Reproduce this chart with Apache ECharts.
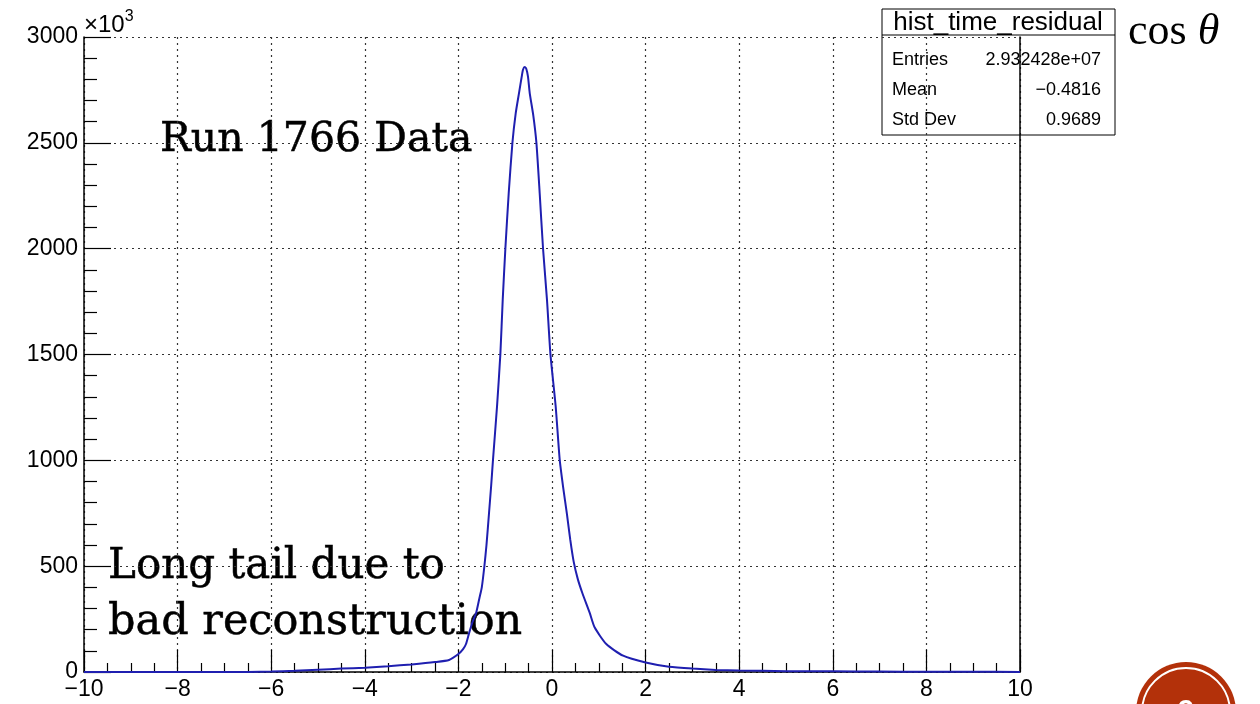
<!DOCTYPE html>
<html>
<head>
<meta charset="utf-8">
<script src="https://cdn.jsdelivr.net/npm/echarts@6/dist/echarts.min.js"></script>
<style>
    html, body { margin: 0; padding: 0; background: #fff; }
    #chart { width: 1260px; height: 704px; }
</style>
</head>
<body>
<div id="chart"></div>
<script>
// time residual histogram, counts in units of 10^3
const timeResidual = [
    -10, -8, -7, -6.5, -6, -5.5, -5, -4.5, -4, -3.5, -3, -2.5, -2.2, -2.0, -1.9, -1.84,
    -1.77, -1.70, -1.62, -1.55, -1.50, -1.444, -1.40, -1.346, -1.30, -1.261, -1.175,
    -1.103, -1.053, -0.996, -0.925, -0.846, -0.775, -0.705, -0.647, -0.62, -0.583, -0.55,
    -0.513, -0.476, -0.40, -0.333, -0.263, -0.192, -0.107, -0.034, 0.079, 0.165, 0.24, 0.32,
    0.39, 0.464, 0.55, 0.65, 0.806, 0.91, 1.16, 1.52, 2.0, 2.5, 3.0, 3.5, 4.0, 5, 6, 7, 8, 9, 10
];
const counts = [
    0, 0, 0, 0.5, 2, 6, 11, 16, 20, 27, 36, 47, 57, 85, 108, 131,
    185, 235, 280, 350, 400, 502, 600, 750, 880, 1002, 1254,
    1503, 1758, 2002, 2262, 2500, 2640, 2735, 2813, 2845, 2858, 2850,
    2813, 2735, 2630, 2500, 2262, 2002, 1758, 1503, 1254, 1002, 870, 745,
    625, 520, 440, 372, 279, 211, 132, 77, 45, 25, 16, 10, 7, 4, 3, 2, 1.5, 1, 0.5
];

const xTicks = { min: -10, max: 10, step: 2 };
const yTicks = { min: 0, max: 3000, step: 500 };

const statsTitle = 'hist_time_residual';
const statsNames = ['Entries', 'Mean', 'Std Dev'];
const statsValues = ['2.932428e+07', '\u22120.4816', '0.9689'];

const sansFont = '"Liberation Sans", Arial, sans-serif';
const serifFont = '"DejaVu Serif", serif';

const minus = v => String(v).replace('-', '\u2212');

const statsBox = [
    { type: 'rect', shape: { x: 882, y: 9, width: 233, height: 126 },
      style: { fill: '#fff', stroke: '#000', lineWidth: 1 } },
    { type: 'line', shape: { x1: 882, y1: 35, x2: 1115, y2: 35 },
      style: { stroke: '#000', lineWidth: 1 } },
    { type: 'text', x: 998, y: 23,
      style: { text: statsTitle, font: `26px ${sansFont}`, fill: '#000',
               align: 'center', verticalAlign: 'middle' } }
];
statsNames.forEach((name, i) => {
    const y = [60, 90, 120][i];
    statsBox.push({ type: 'text', x: 892, y,
        style: { text: name, font: `18px ${sansFont}`, fill: '#000', verticalAlign: 'middle' } });
    statsBox.push({ type: 'text', x: 1101, y,
        style: { text: statsValues[i], font: `18px ${sansFont}`, fill: '#000',
                 align: 'right', verticalAlign: 'middle' } });
});

// slide annotations: slab serif, drawn a bit heavier
const note = (text, x, y, size) => ({
    type: 'text', x, y,
    style: { text, font: `${size}px ${serifFont}`, fill: '#000', verticalAlign: 'middle',
             stroke: '#000', lineWidth: 0.5 }
});

const chartOptions = {
    animation: false,
    backgroundColor: '#fff',
    grid: { left: 84, right: 240, top: 37, bottom: 32 },
    xAxis: {
        type: 'value',
        min: xTicks.min,
        max: xTicks.max,
        interval: xTicks.step,
        axisLine: { onZero: false, lineStyle: { color: '#000', width: 1.5 } },
        axisTick: { inside: true, length: 22, lineStyle: { color: '#000', width: 1.2 } },
        minorTick: { show: true, splitNumber: 4, length: 9, lineStyle: { color: '#000', width: 1.2 } },
        splitLine: { show: true, lineStyle: { type: [2, 4], color: '#333', width: 1.2 } },
        axisLabel: { color: '#000', fontSize: 23, fontFamily: sansFont, margin: 6, formatter: minus }
    },
    yAxis: [
        {
            type: 'value',
            min: yTicks.min,
            max: yTicks.max,
            interval: yTicks.step,
            axisLine: { show: true, onZero: false, lineStyle: { color: '#000', width: 1.5 } },
            axisTick: { show: true, inside: true, length: 27, lineStyle: { color: '#000', width: 1.2 } },
            minorTick: { show: true, splitNumber: 5, length: 13, lineStyle: { color: '#000', width: 1.2 } },
            splitLine: { show: true, lineStyle: { type: [2, 4], color: '#333', width: 1.2 } },
            axisLabel: { color: '#000', fontSize: 23, fontFamily: sansFont, margin: 6, formatter: v => String(v) }
        },
        {
            type: 'value',
            position: 'right',
            min: yTicks.min,
            max: yTicks.max,
            axisLine: { show: true, onZero: false, lineStyle: { color: '#000', width: 1.5 } },
            axisTick: { show: false },
            axisLabel: { show: false },
            splitLine: { show: false }
        }
    ],
    series: [
        {
            name: statsTitle,
            type: 'line',
            data: timeResidual.map((x, i) => [x, counts[i]]),
            showSymbol: false,
            smooth: 0.2,
            color: '#1f1fb0',
            lineStyle: { color: '#1f1fb0', width: 2 },
            z: 3
        }
    ],
    graphic: [
        { type: 'text', x: 84, y: 25,
          style: { text: '\u00d710{s|3}', font: `24px ${sansFont}`, fill: '#000', verticalAlign: 'middle',
                   rich: { s: { fontSize: 16, fontFamily: sansFont, verticalAlign: 'top', padding: [0, 0, 16, 0] } } } },
        note('Run 1766 Data', 160, 140, 41),
        note('Long tail due to', 108, 567, 42),
        note('bad reconstruction', 108, 623, 43),
        { type: 'text', x: 1128, y: 32,
          style: { text: 'cos {t|\u03b8}', font: `44px "Liberation Serif", serif`, fill: '#000', verticalAlign: 'middle',
                   rich: { t: { fontStyle: 'italic', fontSize: 44, fontFamily: '"Liberation Serif", serif' } } } },
        { type: 'group', children: statsBox, z: 10 },
        { type: 'circle', shape: { cx: 1186, cy: 712, r: 50 }, style: { fill: '#b3310a' } },
        { type: 'circle', shape: { cx: 1186, cy: 712, r: 44 }, style: { fill: 'none', stroke: '#fff', lineWidth: 2 } },
        { type: 'text', x: 1186, y: 712,
          style: { text: '9', font: `bold 30px ${sansFont}`, fill: '#fff', align: 'center', verticalAlign: 'middle' } }
    ]
};

const chart = echarts.init(document.getElementById('chart'));
chart.setOption(chartOptions);
</script>
</body>
</html>
